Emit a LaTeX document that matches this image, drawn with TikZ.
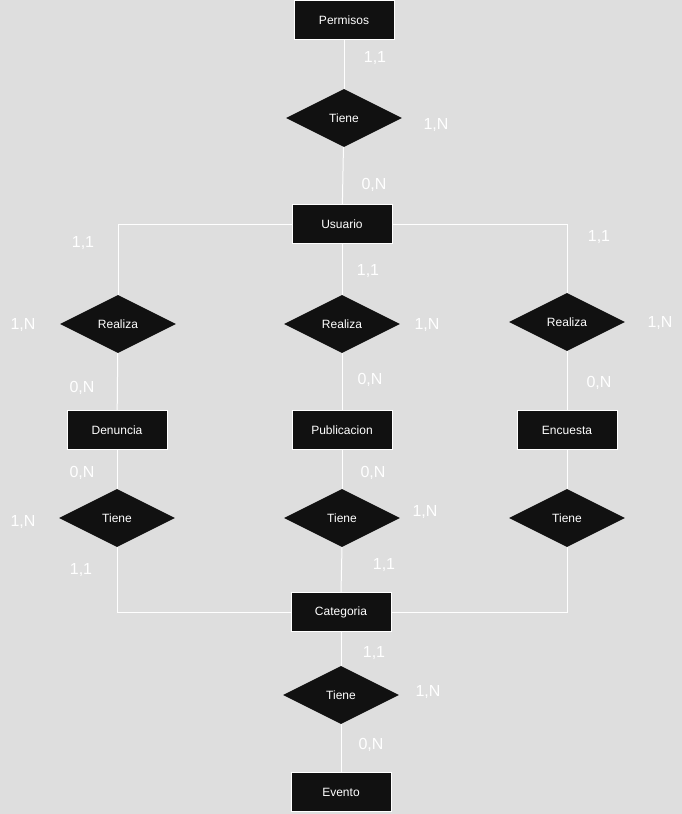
\documentclass[tikz,border=0pt]{standalone}
\usepackage{fontspec}
\setmainfont{Liberation Sans}
\usetikzlibrary{shapes.geometric}
\definecolor{bgc}{HTML}{DEDEDE}
\definecolor{boxc}{HTML}{111111}
\begin{document}
\begin{tikzpicture}[x=1pt,y=-1pt,
  entity/.style={rectangle, fill=boxc, draw=white, line width=1pt, minimum width=100pt, minimum height=39pt, inner sep=0pt, text=white, font=\fontsize{12}{14}\selectfont},
  rel/.style={diamond, fill=boxc, draw=none, minimum width=116pt, minimum height=58pt, aspect=2, inner sep=0pt, text=white, font=\fontsize{12}{14}\selectfont},
  card/.style={text=white, inner sep=0pt, yshift=-1.5pt, font=\fontsize{16}{18}\selectfont},
  conn/.style={draw=white, line width=1pt}]
\fill[bgc] (0,0) rectangle (682,814);
\useasboundingbox (0,0) rectangle (682,814);
% entities
\node[entity] (perm) at (344,20) {Permisos};
\node[entity] (usu) at (342,224) {Usuario};
\node[entity] (den) at (117,430) {Denuncia};
\node[entity] (pub) at (342,430) {Publicacion};
\node[entity] (enc) at (567,430) {Encuesta};
\node[entity] (cat) at (341,612) {Categoria};
\node[entity] (eve) at (341,792) {Evento};
% relations
\node[rel] (t0) at (344,118) {Tiene};
\node[rel] (r1) at (118,324) {Realiza};
\node[rel] (r2) at (342,324) {Realiza};
\node[rel] (r3) at (567,322) {Realiza};
\node[rel] (t1) at (117,518) {Tiene};
\node[rel] (t2) at (342,518) {Tiene};
\node[rel] (t3) at (567,518) {Tiene};
\node[rel] (t4) at (341,695) {Tiene};
% connectors
\draw[conn] (perm) -- (t0);
\draw[conn] (t0) -- (usu);
\draw[conn] (usu.west) -| (r1.north);
\draw[conn] (usu) -- (r2);
\draw[conn] (usu.east) -| (r3.north);
\draw[conn] (r1) -- (den);
\draw[conn] (r2) -- (pub);
\draw[conn] (r3) -- (enc);
\draw[conn] (den) -- (t1);
\draw[conn] (pub) -- (t2);
\draw[conn] (enc) -- (t3);
\draw[conn] (t1.south) |- (cat.west);
\draw[conn] (t2.south) -- (cat.north);
\draw[conn] (t3.south) |- (cat.east);
\draw[conn] (cat) -- (t4);
\draw[conn] (t4) -- (eve);
% cardinalities
\node[card] (c1) at (375,57) {1,1};
\node[card] (c2) at (436,124) {1,N};
\node[card] (c3) at (374,183) {0,N};
\node[card] (c4) at (83,242) {1,1};
\node[card] (c5) at (368,270) {1,1};
\node[card] (c6) at (599,236) {1,1};
\node[card] (c7) at (23,324) {1,N};
\node[card] (c8) at (427,324) {1,N};
\node[card] (c9) at (660,322) {1,N};
\node[card] (c10) at (82,386) {0,N};
\node[card] (c11) at (370,378) {0,N};
\node[card] (c12) at (599,381) {0,N};
\node[card] (c13) at (82,471) {0,N};
\node[card] (c14) at (373,471) {0,N};
\node[card] (c15) at (23,521) {1,N};
\node[card] (c16) at (425,511) {1,N};
\node[card] (c17) at (81,569) {1,1};
\node[card] (c18) at (384,564) {1,1};
\node[card] (c19) at (374,652) {1,1};
\node[card] (c20) at (428,691) {1,N};
\node[card] (c21) at (371,743) {0,N};
\end{tikzpicture}
\end{document}
